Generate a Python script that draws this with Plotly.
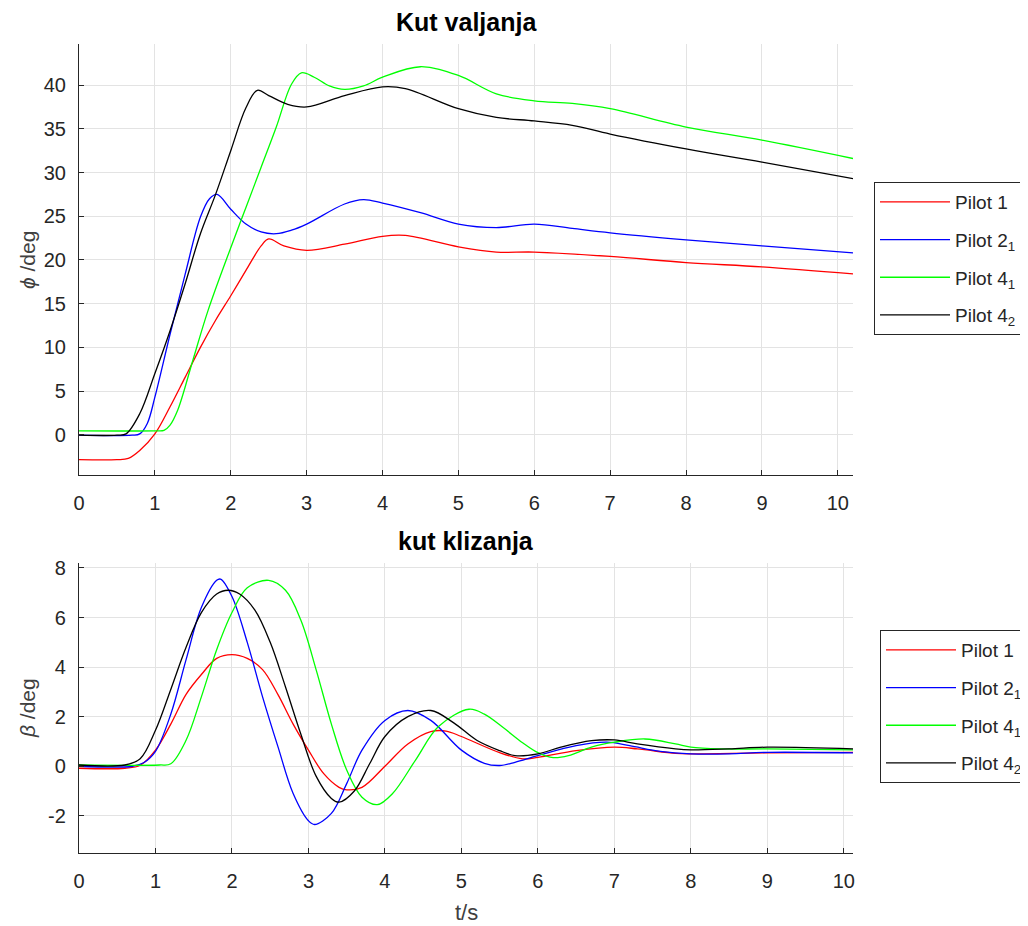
import plotly.graph_objects as go

# ---------------- data: roll angle (top) ----------------
t_phi_p1 = [0, 0.5, 0.65, 0.8, 1.0, 1.2, 1.4, 1.6, 1.8, 2.0, 2.2, 2.4, 2.5, 2.7, 3.0, 3.5, 4.0, 4.3, 5.0, 5.5, 6.0, 7.0, 8.0, 9.0, 10.2]
phi_p1 = [-2.85, -2.85, -2.7, -1.8, 0.1, 3.2, 6.6, 10.0, 13.1, 15.9, 18.8, 21.6, 22.4, 21.6, 21.1, 21.8, 22.7, 22.8, 21.5, 20.9, 20.9, 20.4, 19.7, 19.2, 18.4]

t_phi_p21 = [0, 0.7, 0.8, 0.9, 1.0, 1.2, 1.4, 1.6, 1.72, 1.82, 2.0, 2.2, 2.4, 2.6, 2.8, 3.0, 3.5, 3.75, 4.0, 4.5, 5.0, 5.5, 6.0, 6.5, 7.0, 8.0, 9.0, 10.2]
phi_p21 = [-0.05, -0.05, 0.1, 1.3, 4.3, 11.5, 18.4, 24.9, 27.0, 27.5, 25.8, 24.1, 23.2, 23.0, 23.4, 24.1, 26.4, 26.9, 26.5, 25.4, 24.1, 23.7, 24.1, 23.6, 23.1, 22.3, 21.6, 20.8]

t_phi_p41 = [0, 1.0, 1.12, 1.2, 1.3, 1.5, 1.7, 2.0, 2.2, 2.4, 2.6, 2.8, 2.93, 3.1, 3.3, 3.5, 3.75, 4.0, 4.5, 5.0, 5.5, 6.0, 6.5, 7.0, 8.0, 9.0, 10.2]
phi_p41 = [0.45, 0.45, 0.5, 1.1, 2.8, 8.5, 14.2, 21.4, 26.0, 30.6, 35.2, 40.1, 41.4, 40.9, 39.9, 39.5, 39.9, 40.9, 42.1, 41.1, 39.0, 38.2, 37.9, 37.3, 35.2, 33.7, 31.6]

t_phi_p42 = [0, 0.5, 0.62, 0.8, 1.0, 1.2, 1.4, 1.6, 1.8, 2.0, 2.2, 2.35, 2.5, 2.75, 3.0, 3.5, 4.0, 4.3, 5.0, 5.5, 6.0, 6.5, 7.0, 8.0, 9.0, 10.2]
phi_p42 = [-0.05, -0.05, 0.1, 2.4, 7.0, 11.9, 17.3, 23.0, 27.5, 32.5, 37.4, 39.4, 38.8, 37.8, 37.5, 38.8, 39.8, 39.6, 37.3, 36.3, 35.9, 35.4, 34.4, 32.7, 31.2, 29.3]

# ---------------- data: sideslip angle (bottom) ----------------
t_beta_p1 = [0, 0.6, 0.8, 1.0, 1.2, 1.4, 1.6, 1.8, 2.0, 2.2, 2.4, 2.6, 2.8, 3.0, 3.2, 3.4, 3.5, 3.7, 4.0, 4.3, 4.6, 4.8, 5.0, 5.5, 5.8, 6.0, 6.5, 7.0, 7.3, 7.8, 8.0, 9.0, 10.12]
beta_p1 = [-0.08, -0.08, 0.04, 0.65, 1.7, 2.9, 3.7, 4.35, 4.5, 4.35, 3.9, 2.9, 1.7, 0.65, -0.3, -0.85, -0.95, -0.85, 0.0, 0.9, 1.4, 1.42, 1.2, 0.55, 0.3, 0.36, 0.63, 0.77, 0.7, 0.52, 0.5, 0.54, 0.56]

t_beta_p21 = [0, 0.7, 0.85, 1.0, 1.2, 1.4, 1.6, 1.8, 1.85, 2.0, 2.2, 2.4, 2.6, 2.8, 3.0, 3.08, 3.3, 3.5, 3.7, 4.0, 4.3, 4.6, 5.0, 5.3, 5.5, 5.7, 6.0, 6.5, 6.9, 7.2, 7.6, 8.0, 8.5, 9.0, 10.12]
beta_p21 = [0.0, 0.0, 0.15, 0.6, 2.1, 4.3, 6.4, 7.5, 7.55, 6.85, 5.0, 2.8, 0.8, -1.1, -2.2, -2.35, -1.9, -0.7, 0.65, 1.85, 2.25, 1.85, 0.65, 0.12, 0.03, 0.16, 0.43, 0.83, 0.97, 0.83, 0.6, 0.5, 0.5, 0.56, 0.54]

t_beta_p41 = [0, 1.05, 1.2, 1.4, 1.6, 1.8, 2.0, 2.2, 2.48, 2.7, 2.9, 3.1, 3.3, 3.5, 3.7, 3.9, 4.1, 4.4, 4.7, 5.1, 5.3, 5.55, 5.8, 6.0, 6.2, 6.4, 6.7, 7.0, 7.4, 7.8, 8.0, 8.4, 9.0, 10.12]
beta_p41 = [0.05, 0.05, 0.1, 1.05, 2.8, 4.7, 6.2, 7.2, 7.5, 7.1, 5.9, 3.9, 1.7, -0.15, -1.25, -1.55, -1.1, 0.25, 1.6, 2.3, 2.1, 1.55, 0.95, 0.55, 0.35, 0.43, 0.77, 0.97, 1.1, 0.9, 0.77, 0.7, 0.7, 0.66]

t_beta_p42 = [0, 0.6, 0.8, 1.0, 1.2, 1.4, 1.6, 1.8, 1.95, 2.1, 2.3, 2.5, 2.7, 2.9, 3.1, 3.3, 3.4, 3.6, 3.8, 4.0, 4.3, 4.6, 4.9, 5.2, 5.5, 5.7, 6.0, 6.3, 6.7, 7.0, 7.3, 7.8, 8.0, 8.5, 9.0, 10.12]
beta_p42 = [0.05, 0.05, 0.3, 1.45, 3.1, 4.8, 6.2, 6.95, 7.1, 6.95, 6.3, 5.0, 3.2, 1.3, -0.4, -1.3, -1.45, -1.0, 0.1, 1.2, 2.0, 2.25, 1.75, 1.05, 0.63, 0.43, 0.5, 0.77, 1.03, 1.06, 0.9, 0.7, 0.66, 0.7, 0.77, 0.7]

# ---------------- tick labels ----------------
x_ticks = [0, 1, 2, 3, 4, 5, 6, 7, 8, 9, 10]
phi_ticks = [0, 5, 10, 15, 20, 25, 30, 35, 40]
beta_ticks = [-2, 0, 2, 4, 6, 8]
beta_ticktext = ["-2", "0", "2", "4", "6", "8"]

names = ["Pilot 1", "Pilot 2<sub>1</sub>", "Pilot 4<sub>1</sub>", "Pilot 4<sub>2</sub>"]
colors = ["#ff0000", "#0000ff", "#00ff00", "#000000"]

top_series = [(t_phi_p1, phi_p1), (t_phi_p21, phi_p21), (t_phi_p41, phi_p41), (t_phi_p42, phi_p42)]
bot_series = [(t_beta_p1, beta_p1), (t_beta_p21, beta_p21), (t_beta_p41, beta_p41), (t_beta_p42, beta_p42)]

FONT = "Liberation Sans, Arial, Helvetica, sans-serif"
TXT = "#262626"

fig = go.Figure()
for i, ((tx, ty), n, c) in enumerate(zip(top_series, names, colors)):
    fig.add_trace(go.Scatter(x=tx, y=ty, mode="lines", name=n, legendgroup=f"a{i}",
                             line=dict(color=c, width=1.3, shape="spline", smoothing=1.0),
                             xaxis="x", yaxis="y", legend="legend"))
for i, ((tx, ty), n, c) in enumerate(zip(bot_series, names, colors)):
    fig.add_trace(go.Scatter(x=tx, y=ty, mode="lines", name=n, legendgroup=f"b{i}",
                             line=dict(color=c, width=1.3, shape="spline", smoothing=1.0),
                             xaxis="x2", yaxis="y2", legend="legend2"))

# page body has an 8px margin; work in reference pixels minus 8
OFF = 8
W, H = 1028 - OFF, 926 - OFF
ml, mt = 79 - OFF, 44 - OFF
mr = W - (853 - OFF)
mb = H - (853 - OFF)
pw = W - ml - mr
ph = H - mt - mb

def py(ref_y):
    return (H - mb - (ref_y - OFF)) / ph

def px(ref_x):
    return ((ref_x - OFF) - ml) / pw

axis_common = dict(showgrid=True, gridcolor="#e3e3e3", gridwidth=1,
                   showline=True, linecolor="#262626", linewidth=1.2,
                   ticks="inside", ticklen=5, tickcolor="#262626",
                   zeroline=False, mirror=False,
                   tickfont=dict(family=FONT, size=20, color=TXT))

legend_common = dict(xanchor="left", yanchor="top",
                     bgcolor="white", bordercolor="#262626", borderwidth=1,
                     font=dict(family=FONT, size=19, color=TXT),
                     itemwidth=70, tracegroupgap=10)

fig.update_layout(
    width=W, height=H,
    margin=dict(l=ml, r=mr, t=mt, b=mb, autoexpand=False),
    paper_bgcolor="white", plot_bgcolor="white",
    font=dict(family=FONT, color=TXT),
    xaxis=dict(domain=[0, 1], range=[0, 10.2], tickvals=x_ticks, ticklabelstandoff=10,
               anchor="y", **axis_common),
    yaxis=dict(domain=[py(475), py(44)], range=[-4.6, 44.7], tickvals=phi_ticks, ticklabelstandoff=8,
               anchor="x", **axis_common),
    xaxis2=dict(domain=[0, 1], range=[0, 10.12], tickvals=x_ticks, ticklabelstandoff=10,
                anchor="y2", **axis_common),
    yaxis2=dict(domain=[py(853), py(563)], range=[-3.5, 8.2], tickvals=beta_ticks,
                ticktext=beta_ticktext, ticklabelstandoff=8,
                anchor="x2", **axis_common),
    legend=dict(x=px(874), y=py(182), **legend_common),
    legend2=dict(x=px(880), y=py(630), **legend_common),
    showlegend=True,
)

annotations = [
    dict(text="<b>Kut valjanja</b>", x=0.5, xref="paper", y=py(22), yref="paper",
         showarrow=False, font=dict(family=FONT, size=25, color="#000000"), yanchor="middle"),
    dict(text="<b>kut klizanja</b>", x=0.5, xref="paper", y=py(541), yref="paper",
         showarrow=False, font=dict(family=FONT, size=25, color="#000000"), yanchor="middle"),
    dict(text="t/s", x=0.5, xref="paper", y=py(912), yref="paper",
         showarrow=False, font=dict(family=FONT, size=22, color="#404040"), yanchor="middle"),
    dict(text="<i>ϕ</i> /deg", x=px(27), xref="paper", y=py(260), yref="paper", textangle=-90,
         showarrow=False, font=dict(family=FONT, size=21, color="#404040"),
         xanchor="center", yanchor="middle"),
    dict(text="<i>β</i> /deg", x=px(27), xref="paper", y=py(708), yref="paper", textangle=-90,
         showarrow=False, font=dict(family=FONT, size=21, color="#404040"),
         xanchor="center", yanchor="middle"),
]
fig.update_layout(annotations=annotations)

fig.write_html("out.html")
